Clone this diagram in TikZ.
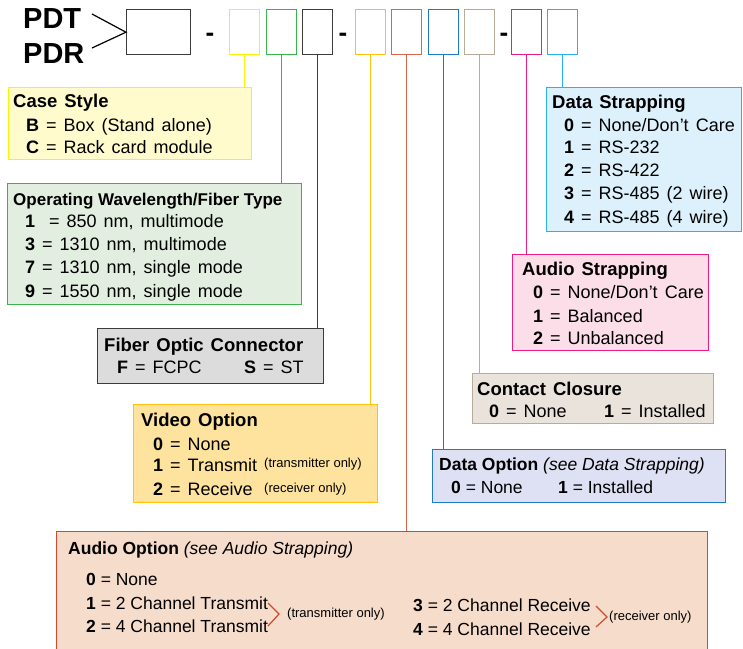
\documentclass[tikz,border=0pt]{standalone}
\usepackage{fontspec}
\setmainfont{Liberation Sans}
\usepackage{tikz}

\definecolor{cyel}{HTML}{FFF200}\definecolor{fyel}{HTML}{FFFBCC}
\definecolor{cgrn}{HTML}{3AB54A}\definecolor{fgrn}{HTML}{E2EEDF}
\definecolor{cblk}{HTML}{3C3C3C}\definecolor{fgry}{HTML}{DCDCDC}
\definecolor{corg}{HTML}{FFC20E}\definecolor{forg}{HTML}{FDE39E}
\definecolor{cred}{HTML}{D9664A}\definecolor{caud}{HTML}{D24A2C}\definecolor{faud}{HTML}{F6DCCB}
\definecolor{cblu}{HTML}{1C7BC4}\definecolor{fblu}{HTML}{DDE1F3}
\definecolor{ctan}{HTML}{B8AB9A}\definecolor{ftan}{HTML}{EAE3DC}
\definecolor{cmag}{HTML}{EC1C84}\definecolor{fmag}{HTML}{FBDEE8}
\definecolor{ccyn}{HTML}{27B4EA}\definecolor{fcyn}{HTML}{DDF1FC}

\newcommand{\boxfont}{\fontsize{18}{22}\selectfont\spaceskip=7pt plus 2pt minus 1pt}
\newcommand{\headfont}{\fontsize{18.5}{22}\selectfont\bfseries\spaceskip=7pt plus 2pt minus 1pt}
\newcommand{\optfont}{\fontsize{17.5}{21}\selectfont}
\newcommand{\notefont}{\fontsize{13}{15}\selectfont}

\tikzset{
  digit/.style={draw=#1, line width=1.4pt, minimum width=30pt, minimum height=45pt, inner sep=0pt, anchor=north west},
  legend/.style 2 args={draw=#1, fill=#2, line width=1.4pt, inner sep=0pt, anchor=north west},
  link/.style={draw=#1, line width=1.4pt},
  txt/.style={anchor=base west, inner sep=0pt, font=\boxfont},
  head/.style={anchor=base west, inner sep=0pt, font=\headfont},
  opt/.style={anchor=base west, inner sep=0pt, font=\optfont},
  note/.style={anchor=base west, inner sep=0pt, font=\notefont}
}

\begin{document}
\begin{tikzpicture}[x=1pt,y=-1pt]
\useasboundingbox (0,0) rectangle (743,648);
\fill[white] (0,0) rectangle (743,648);

% part number
\node[anchor=base west, inner sep=0pt, font=\fontsize{29}{30}\selectfont\bfseries] (pdt) at (23,28) {PDT};
\node[anchor=base west, inner sep=0pt, font=\fontsize{29}{30}\selectfont\bfseries] (pdr) at (23,63) {PDR};
\node[digit=cblk, minimum width=64pt] (bx) at (126,9) {};
\coordinate (pdt-tip) at (92,14);
\coordinate (pdr-tip) at (92,48);
\draw[line width=1.2pt] (pdt-tip) -- (bx.west) -- (pdr-tip);
\foreach \x in {210,343,504}
  \node[anchor=base, inner sep=0pt, font=\fontsize{26}{26}\selectfont\bfseries] (dash\x) at (\x,41) {-};
\foreach \n/\x/\c in {d1/229/cyel, d2/266/cgrn, d3/302/cblk, d4/355/corg, d5/391/cred,
                      d6/428/cblu, d7/464/ctan, d8/511/cmag, d9/547/ccyn}
  \node[digit=\c] (\n) at (\x,9) {};

% legend boxes
\node[legend={cyel}{fyel}, minimum width=243pt, minimum height=72pt] (case) at (8,87) {};
\node[legend={cgrn}{fgrn}, minimum width=294pt, minimum height=121pt] (wave) at (7,183) {};
\node[legend={cblk}{fgry}, minimum width=226pt, minimum height=55pt] (conn) at (97,328) {};
\node[legend={corg}{forg}, minimum width=244pt, minimum height=98pt] (video) at (133,404) {};
\node[legend={caud}{faud}, minimum width=651pt, minimum height=125pt] (audio) at (56,531) {};
\node[legend={cblu}{fblu}, minimum width=293pt, minimum height=53pt] (dopt) at (432,449) {};
\node[legend={ctan}{ftan}, minimum width=241pt, minimum height=50pt] (contact) at (472,373) {};
\node[legend={cmag}{fmag}, minimum width=196pt, minimum height=96pt] (astrap) at (512,254) {};
\node[legend={ccyn}{fcyn}, minimum width=195pt, minimum height=144pt] (dstrap) at (546,87) {};

% connectors
\foreach \d/\b/\c in {d1/case/cyel, d2/wave/cgrn, d3/conn/cblk, d4/video/corg, d5/audio/cred,
                      d6/dopt/cblu, d7/contact/ctan, d8/astrap/cmag, d9/dstrap/ccyn}
  \draw[link=\c] (\d.south) -- (\d.south |- \b.north);

% case style
\node[head] (case-t) at (13,107) {Case Style};
\node[txt] (case-1) at (26,131) {\textbf{B} = Box (Stand alone)};
\node[txt] (case-2) at (26,153) {\textbf{C} = Rack card module};

% wavelength
\node[head, font=\fontsize{17}{20}\selectfont\bfseries] (wave-t) at (13,205) {Operating Wavelength/Fiber Type};
\foreach \y/\t [count=\i] in {227/{\textbf{1}\ \ = 850 nm, multimode}, 250/{\textbf{3} = 1310 nm, multimode},
                              273/{\textbf{7} = 1310 nm, single mode}, 297/{\textbf{9} = 1550 nm, single mode}}
  \node[txt] (wave-\i) at (25,\y) {\t};

% connector type
\node[head] (conn-t) at (104,351) {Fiber Optic Connector};
\node[txt] (conn-1) at (117,373) {\textbf{F} = FCPC};
\node[txt] (conn-2) at (244,373) {\textbf{S} = ST};

% video
\node[head] (video-t) at (141,426) {Video Option};
\node[txt] (video-1) at (153,450) {\textbf{0} = None};
\node[txt] (video-2) at (153,471) {\textbf{1} = Transmit};
\node[txt] (video-3) at (153,495) {\textbf{2} = Receive};
\node[note] (video-n1) at (264,467) {(transmitter only)};
\node[note] (video-n2) at (264,492) {(receiver only)};

% audio option
\node[opt] (audio-t) at (68,554) {\textbf{Audio Option} \textit{(see Audio Strapping)}};
\node[opt] (audio-0) at (86,585) {\textbf{0} = None};
\node[opt] (audio-1) at (86,609) {\textbf{1} = 2 Channel Transmit};
\node[opt] (audio-2) at (86,632) {\textbf{2} = 4 Channel Transmit};
\node[opt] (audio-3) at (413,611) {\textbf{3} = 2 Channel Receive};
\node[opt] (audio-4) at (413,635) {\textbf{4} = 4 Channel Receive};
\node[note] (audio-n1) at (287,617) {(transmitter only)};
\node[note] (audio-n2) at (609,620) {(receiver only)};
\draw[caud, line width=1.2pt] (268,603) -- (279,614) -- (268,626);
\draw[caud, line width=1.2pt] (596,606) -- (607,617) -- (596,627);

% data option
\node[opt] (dopt-t) at (439,470) {\textbf{Data Option} \textit{(see Data Strapping)}};
\node[opt] (dopt-1) at (451,493) {\textbf{0} = None};
\node[opt] (dopt-2) at (558,493) {\textbf{1} = Installed};

% contact closure
\node[head] (contact-t) at (477,395) {Contact Closure};
\node[txt] (contact-1) at (489,417) {\textbf{0} = None};
\node[txt] (contact-2) at (604,417) {\textbf{1} = Installed};

% audio strapping
\node[head] (astrap-t) at (522,275) {Audio Strapping};
\foreach \y/\t [count=\i] in {298/{\textbf{0} = None/Don’t Care}, 322/{\textbf{1} = Balanced},
                              344/{\textbf{2} = Unbalanced}}
  \node[txt] (astrap-\i) at (533,\y) {\t};

% data strapping
\node[head] (dstrap-t) at (552,108) {Data Strapping};
\foreach \y/\t [count=\i] in {131/{\textbf{0} = None/Don’t Care}, 153/{\textbf{1} = RS-232},
                              176/{\textbf{2} = RS-422}, 199/{\textbf{3} = RS-485 (2 wire)},
                              223/{\textbf{4} = RS-485 (4 wire)}}
  \node[txt] (dstrap-\i) at (564,\y) {\t};
\end{tikzpicture}
\end{document}
